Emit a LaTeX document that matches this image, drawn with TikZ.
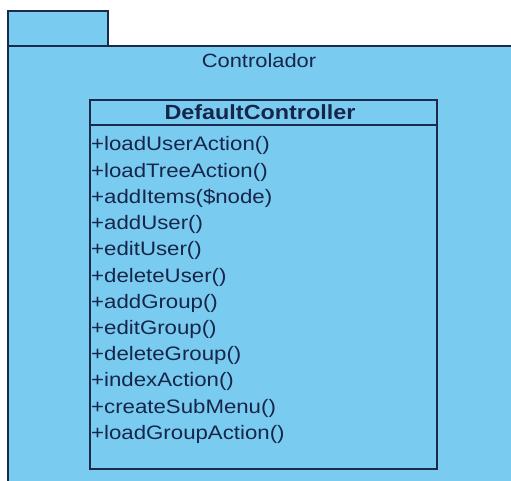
\documentclass[tikz,border=0pt]{standalone}
\usepackage{fontspec}
\setmainfont{Liberation Sans}[FakeStretch=1.14]
\definecolor{pkgfill}{HTML}{79CBEF}
\definecolor{umlline}{HTML}{1B2A4C}
\definecolor{umltext}{HTML}{16264A}
\tikzset{
  pkgshape/.style={draw=umlline, fill=pkgfill, line width=1.4pt},
  classbox/.style={draw=umlline, line width=1.6pt, inner sep=0pt, anchor=north west},
  pkglabel/.style={anchor=base, text=umltext, font=\fontsize{19.2}{22}\selectfont, inner sep=0pt},
  classname/.style={anchor=base, text=umltext, font=\fontsize{20.5}{22}\selectfont\bfseries, inner sep=0pt},
  methodlabel/.style={anchor=base west, text=umltext, font=\fontsize{19.5}{22}\selectfont, inner sep=0pt}
}
\begin{document}
\begin{tikzpicture}[x=1pt,y=-1pt]
\useasboundingbox (0,0) rectangle (511,481);
\fill[white] (0,0) rectangle (511,481);
\begin{scope}
  \clip (0,0) rectangle (511,481);
  % package tab and body
  \draw[pkgshape] (8,11) rectangle (108,46);
  \draw[pkgshape] (8,46) rectangle (520,490);
\end{scope}
\node[pkglabel] (pkgname) at (259,67.5) {Controlador};
% class box
\node[classbox, minimum width=347pt, minimum height=369pt] (cls) at (89,99) {};
\coordinate (sepL) at ([yshift=-26pt]cls.north west);
\coordinate (sepR) at ([yshift=-26pt]cls.north east);
\draw[umlline, line width=1.4pt] (sepL) -- (sepR);
\node[classname] (clsname) at (260,120) {DefaultController};
% operations
\foreach \m [count=\i from 0] in {loadUserAction(), loadTreeAction(), addItems(\$node), addUser(), editUser(), deleteUser(), addGroup(), editGroup(), deleteGroup(), indexAction(), createSubMenu(), loadGroupAction()}
  \node[methodlabel] (op\i) at (91,151+26.2*\i) {+\m};
\end{tikzpicture}
\end{document}
